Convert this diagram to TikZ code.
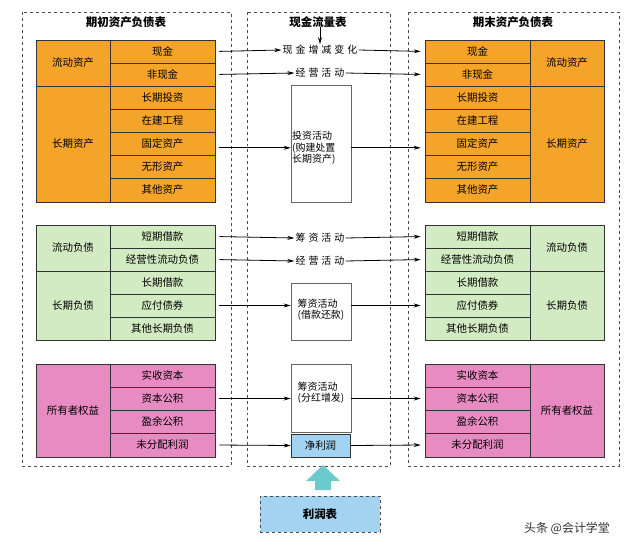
\documentclass[tikz,border=0pt]{standalone}
\usepackage{fontspec}
\setmainfont{Noto Sans CJK SC}
\newfontfamily\cspaced[LetterSpace=30]{Noto Sans CJK SC}
\usetikzlibrary{arrows.meta}
\definecolor{org}{HTML}{F5A42A}
\definecolor{grn}{HTML}{D3EBC3}
\definecolor{pnk}{HTML}{E98BC3}
\definecolor{blu}{HTML}{A3D3F0}
\definecolor{cya}{HTML}{6CC9CC}
\begin{document}
\begin{tikzpicture}[x=1bp,y=-1bp,
 cell/.style={draw=black!80,line width=0.6pt,minimum width=#1,inner sep=0pt,font=\fontsize{10.5}{11}\selectfont},
 frame/.style={draw=black!70,dashed,line width=0.5pt},
 arr/.style={-{Stealth[length=7pt,width=4pt]},line width=0.8pt},
 ctext/.style={font=\cspaced\fontsize{10}{11}\selectfont,inner sep=1pt},
 cbox/.style={draw=black!60,line width=0.7pt,fill=white,minimum width=60bp,inner sep=0pt},
 ctxt/.style={font=\fontsize{10}{11.5}\selectfont,align=left,inner sep=0pt},
 title/.style={font=\bfseries\fontsize{11.5}{12}\selectfont}]
\useasboundingbox (0,0) rectangle (640,550);
\fill[white] (0,0) rectangle (640,550);
\draw[frame] (22,12) rectangle (231,466);
\draw[frame] (247,12) rectangle (390,466);
\draw[frame] (408,12) rectangle (619,466);
\node[title] (t1) at (126,22) {期初资产负债表};
\node[title] (t2) at (318,22) {现金流量表};
\node[title] (t3) at (513,22) {期末资产负债表};
% Left
\foreach \n/\a/\b/\t in {L1/40/63/现金,L2/63/86/非现金,L3/86/109/长期投资,L4/109/132/在建工程,L5/132/155/固定资产,L6/155/178/无形资产,L7/178/202/其他资产}
  {\node[cell=105bp,minimum height={\b-\a},fill=org] (\n) at (162.5,{(\a+\b)/2}) {\t};}
\node[cell=74bp,minimum height=46bp,fill=org] (LA) at (73,63) {流动资产};
\node[cell=74bp,minimum height=116bp,fill=org] (LB) at (73,144) {长期资产};
\foreach \n/\a/\b/\t in {L8/225/248/短期借款,L9/248/271/经营性流动负债,L10/271/294/长期借款,L11/294/317/应付债券,L12/317/340/其他长期负债}
  {\node[cell=105bp,minimum height={\b-\a},fill=grn] (\n) at (162.5,{(\a+\b)/2}) {\t};}
\node[cell=74bp,minimum height=46bp,fill=grn] (LC) at (73,248) {流动负债};
\node[cell=74bp,minimum height=69bp,fill=grn] (LD) at (73,305.5) {长期负债};
\foreach \n/\a/\b/\t in {L13/364/387/实收资本,L14/387/410/资本公积,L15/410/433/盈余公积,L16/433/457/未分配利润}
  {\node[cell=105bp,minimum height={\b-\a},fill=pnk] (\n) at (162.5,{(\a+\b)/2}) {\t};}
\node[cell=74bp,minimum height=93bp,fill=pnk] (LE) at (73,410.5) {所有者权益};
% Right
\foreach \n/\a/\b/\t in {R1/40/63/现金,R2/63/86/非现金,R3/86/109/长期投资,R4/109/132/在建工程,R5/132/155/固定资产,R6/155/178/无形资产,R7/178/202/其他资产}
  {\node[cell=105bp,minimum height={\b-\a},fill=org] (\n) at (477.5,{(\a+\b)/2}) {\t};}
\node[cell=74bp,minimum height=46bp,fill=org] (RA) at (567,63) {流动资产};
\node[cell=74bp,minimum height=116bp,fill=org] (RB) at (567,144) {长期资产};
\foreach \n/\a/\b/\t in {R8/225/248/短期借款,R9/248/271/经营性流动负债,R10/271/294/长期借款,R11/294/317/应付债券,R12/317/340/其他长期负债}
  {\node[cell=105bp,minimum height={\b-\a},fill=grn] (\n) at (477.5,{(\a+\b)/2}) {\t};}
\node[cell=74bp,minimum height=46bp,fill=grn] (RC) at (567,248) {流动负债};
\node[cell=74bp,minimum height=69bp,fill=grn] (RD) at (567,305.5) {长期负债};
\foreach \n/\a/\b/\t in {R13/364/387/实收资本,R14/387/410/资本公积,R15/410/433/盈余公积,R16/433/457/未分配利润}
  {\node[cell=105bp,minimum height={\b-\a},fill=pnk] (\n) at (477.5,{(\a+\b)/2}) {\t};}
\node[cell=74bp,minimum height=93bp,fill=pnk] (RE) at (567,410.5) {所有者权益};
% center
\node[ctext] (C1) at (320,50) {现金增减变化};
\node[ctext] (C2) at (320,73) {经营活动};
\node[cbox,minimum height=117bp] (C3) at (321,143.5) {};
\node[ctxt,anchor=north west] (C3t) at (292,131) {投资活动\\(购建处置\\长期资产)};
\node[ctext] (C4) at (320,238) {筹资活动};
\node[ctext] (C5) at (320,261) {经营活动};
\node[cbox,minimum height=57bp] (C6) at (321,311.5) {};
\node[ctxt] (C6t) at (321,310) {筹资活动\\(借款还款)};
\node[cbox,minimum height=68bp] (C7) at (321,398) {};
\node[ctxt] (C7t) at (321,393) {筹资活动\\(分红增发)};
\node[cell=59bp,minimum height=23bp,fill=blu] (C8) at (320.5,445.5) {净利润};
\coordinate (tt) at (320,27);
\draw[arr] (tt) -- (C1.north);
\foreach \l/\c/\r in {L1/C1/R1,L2/C2/R2,L8/C4/R8,L9/C5/R9}{
  \draw[arr,shorten <=4pt] (\l.east) -- (\c.west);
  \draw[arr,shorten >=4pt] (\c.east) -- (\r.west);}
\draw[arr,shorten <=4pt] (L5.east |- C3t.west) -- (C3.west |- C3t.west);
\draw[arr,shorten >=4pt] (C3.east |- C3t.west) -- (R5.west |- C3t.west);
\draw[arr,shorten <=4pt] (L11.east) -- (C6.west |- L11.east);
\draw[arr,shorten >=4pt] (C6.east |- R11.west) -- (R11.west);
\draw[arr,shorten <=4pt] (L14.east) -- (C7.west |- L14.east);
\draw[arr,shorten >=4pt] (C7.east |- R14.west) -- (R14.west);
\draw[arr,shorten <=4pt] (L16.east) -- (C8.west);
\draw[arr,shorten >=4pt] (C8.east) -- (R16.west);
\node[draw=black!70,dashed,fill=blu,minimum width=120bp,minimum height=36bp,font=\bfseries\fontsize{11.5}{12}\selectfont] (P) at (320,514) {利润表};
\fill[cya] (315,490) -- (315,481) -- (306,481) -- (323,465) -- (340,481) -- (331,481) -- (331,490) -- cycle;
\node[font=\fontsize{12}{13}\selectfont,text=black!80] (W) at (567,528) {头条 @会计学堂};
\end{tikzpicture}
\end{document}
